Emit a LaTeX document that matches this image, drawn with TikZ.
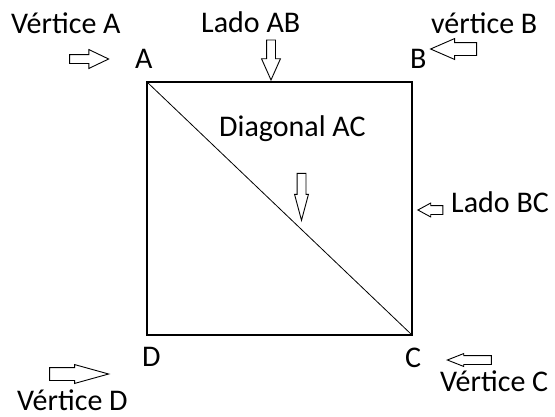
\documentclass[tikz,border=0pt]{standalone}
\usepackage{fontspec}
\setmainfont{Carlito}
\usetikzlibrary{positioning,shapes.arrows}

\begin{document}
\begin{tikzpicture}[x=1pt, y=-1pt,
      lbl/.style={font=\fontsize{30}{35}\selectfont, inner sep=0pt,
                  anchor=base west},
      blk/.style={draw, single arrow, line width=0.9pt, inner xsep=0pt,
                  fill=white},
      blkdown/.style={blk, inner sep=4pt, shape border rotate=270},
      side/.style={line width=1.4pt},
      diag/.style={line width=0.8pt},
    ]
      \useasboundingbox (0,0) rectangle (555,416);
      % square and its diagonal
      \coordinate (A) at (147,82);
      \coordinate (B) at (412,82);
      \coordinate (C) at (412,335);
      \coordinate (D) at (147,335);
      \draw[side] (A) -- (B) -- (C) -- (D) -- cycle;
      \draw[diag] (A) -- (C);
      % labels
      \node[lbl] (vA) at (11,33) {Vértice A};
      \node[lbl] (lA) at (135,68) {A};
      \node[lbl] (lAB) at (201,32) {Lado AB};
      \node[lbl] (lB) at (410,68) {B};
      \node[lbl] (vB) at (431,33) {vértice B};
      \node[lbl] (dAC) at (219,136) {Diagonal AC};
      \node[lbl] (lBC) at (451,212) {Lado BC};
      \node[lbl] (lD) at (142,366) {D};
      \node[lbl] (lC) at (405,367) {C};
      \node[lbl] (vC) at (440,391) {Vértice C};
      \node[lbl] (vD) at (17,410) {Vértice D};
      % block arrows
      \node[blk, minimum height=39pt, inner ysep=4pt,
            single arrow head extend=5pt, single arrow tip angle=51]
            (pVA) at (84.5,59) {};
      \node[blkdown, minimum height=40pt,
            single arrow head extend=5pt, single arrow tip angle=48]
            (pAB) at (271,55) {};
      \node[blk, minimum height=46pt, inner ysep=6pt,
            single arrow head extend=4pt, single arrow tip angle=47,
            shape border rotate=180] (pVB) at (461,49) {};
      \node[blkdown, minimum height=47pt,
            single arrow head extend=2.5pt, single arrow tip angle=30]
            (pAC) at (301.5,188.5) {};
      \node[blk, minimum height=25pt, inner ysep=4pt,
            single arrow head extend=2.5pt, single arrow tip angle=57,
            shape border rotate=180] (pBC) at (434.5,210) {};
      \node[blk, minimum height=59pt, inner ysep=6pt,
            single arrow head extend=3pt, single arrow tip angle=31]
            (pVD) at (67.5,374) {};
      \node[blk, minimum height=44pt, inner ysep=4pt,
            single arrow head extend=2pt, single arrow tip angle=43,
            shape border rotate=180] (pVC) at (475,360) {};
    \end{tikzpicture}
\end{document}
